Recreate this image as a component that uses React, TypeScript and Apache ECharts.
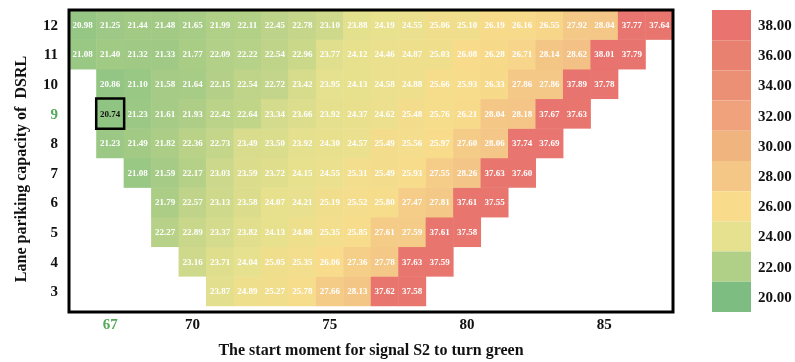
import React, { useEffect, useRef } from "react";
import * as echarts from "echarts";

const xCategories = [66, 67, 68, 69, 70, 71, 72, 73, 74, 75, 76, 77, 78, 79, 80, 81, 82, 83, 84, 85, 86, 87];
const yCategories = [3, 4, 5, 6, 7, 8, 9, 10, 11, 12];
const xTickLabels = [67, 70, 75, 80, 85];

// values of each row (lane parking capacity), starting at the given start moment
const row12 = [20.98, 21.25, 21.44, 21.48, 21.65, 21.99, 22.11, 22.45, 22.78, 23.10, 23.88, 24.19, 24.55, 25.06, 25.10, 26.19, 26.16, 26.55, 27.92, 28.04, 37.77, 37.64];
const row11 = [21.08, 21.40, 21.32, 21.33, 21.77, 22.09, 22.22, 22.54, 22.96, 23.77, 24.12, 24.46, 24.87, 25.03, 26.08, 26.28, 26.71, 28.14, 28.62, 38.01, 37.79];
const row10 = [20.86, 21.10, 21.58, 21.64, 22.15, 22.54, 22.72, 23.42, 23.95, 24.13, 24.58, 24.88, 25.66, 25.93, 26.33, 27.86, 27.86, 37.89, 37.78];
const row9 = [20.74, 21.23, 21.61, 21.93, 22.42, 22.64, 23.34, 23.66, 23.92, 24.37, 24.62, 25.48, 25.76, 26.21, 28.04, 28.18, 37.67, 37.63];
const row8 = [21.23, 21.49, 21.82, 22.36, 22.73, 23.49, 23.50, 23.92, 24.30, 24.57, 25.49, 25.56, 25.97, 27.60, 28.06, 37.74, 37.69];
const row7 = [21.08, 21.59, 22.17, 23.03, 23.59, 23.72, 24.15, 24.55, 25.31, 25.49, 25.93, 27.55, 28.26, 37.63, 37.60];
const row6 = [21.79, 22.57, 23.13, 23.58, 24.07, 24.21, 25.19, 25.52, 25.80, 27.47, 27.81, 37.61, 37.55];
const row5 = [22.27, 22.89, 23.37, 23.82, 24.13, 24.88, 25.35, 25.85, 27.61, 27.59, 37.61, 37.58];
const row4 = [23.16, 23.71, 24.04, 25.05, 25.35, 26.06, 27.36, 27.78, 37.63, 37.59];
const row3 = [23.87, 24.89, 25.27, 25.78, 27.66, 28.13, 37.62, 37.58];

const rows = [row3, row4, row5, row6, row7, row8, row9, row10, row11, row12];
const rowStarts = [71, 70, 69, 69, 68, 67, 67, 67, 66, 66];

// highlighted optimum cell
const bestX = 67;
const bestY = 9;

const legendValues = [20, 22, 24, 26, 28, 30, 32, 34, 36, 38];
const legendColors = ["#7dbd81", "#b0cf87", "#e6e18e", "#f8dc8b", "#f4c787", "#f0b57f", "#efa27c", "#ec9075", "#e98170", "#e8736f"];

const FONT = "'Liberation Serif', 'Times New Roman', serif";
const GREEN = "#55a95a";

export default function App() {
  const ref = useRef<HTMLDivElement>(null);

  useEffect(() => {
    if (!ref.current) return;
    const chart = echarts.init(ref.current, null, { renderer: "svg" });

    const data: any[] = [];
    let best: any = null;
    rows.forEach((vals, ri) => {
      vals.forEach((v, i) => {
        const xv = rowStarts[ri] + i;
        const xi = xCategories.indexOf(xv);
        const item: any = { value: [xi, ri, v] };
        if (xv === bestX && yCategories[ri] === bestY) {
          item.itemStyle = { borderColor: "#000", borderWidth: 2.5 };
          item.label = { color: "#111" };
          best = item;
        } else {
          data.push(item);
        }
      });
    });
    if (best) data.push(best);

    const left = 69, top = 10, width = 604, height = 302;

    chart.setOption({
      animation: false,
      grid: { left, top, width, height, show: false },
      xAxis: {
        type: "category",
        data: xCategories.map(String),
        axisLine: { show: false },
        axisTick: { show: false },
        splitLine: { show: false },
        axisLabel: {
          interval: (_i: number, v: string) => xTickLabels.includes(Number(v)),
          margin: 10,
          fontFamily: FONT,
          fontWeight: "bold",
          fontSize: 15,
          color: "#111",
          formatter: (v: string) => (Number(v) === bestX ? "{g|" + v + "}" : v),
          rich: { g: { color: GREEN, fontFamily: FONT, fontWeight: "bold", fontSize: 15 } },
        },
        name: "The start moment for signal S2 to turn green",
        nameLocation: "middle",
        nameGap: 35,
        nameTextStyle: { fontFamily: FONT, fontWeight: "bold", fontSize: 16, color: "#111" },
      },
      yAxis: {
        type: "category",
        data: yCategories.map(String),
        axisLine: { show: false },
        axisTick: { show: false },
        splitLine: { show: false },
        axisLabel: {
          margin: 11,
          fontFamily: FONT,
          fontWeight: "bold",
          fontSize: 15,
          color: "#111",
          formatter: (v: string) => (Number(v) === bestY ? "{g|" + v + "}" : v),
          rich: { g: { color: GREEN, fontFamily: FONT, fontWeight: "bold", fontSize: 15 } },
        },
        name: "Lane pariking capacity of  DSRL",
        nameLocation: "middle",
        nameRotate: 90,
        nameGap: 41,
        nameTextStyle: { fontFamily: FONT, fontWeight: "bold", fontSize: 16, color: "#111", padding: [0, 22, 0, 0] },
      },
      visualMap: [
        {
          type: "continuous",
          show: false,
          seriesIndex: 0,
          dimension: 2,
          min: 20,
          max: 38,
          inRange: { color: legendColors },
        },
        {
          type: "piecewise",
          seriesIndex: 1,
          orient: "vertical",
          align: "left",
          left: 712,
          top: 10,
          padding: 0,
          itemWidth: 39,
          itemHeight: 30.2,
          itemGap: 0,
          itemSymbol: "rect",
          textGap: 7,
          selectedMode: false,
          textStyle: { fontFamily: FONT, fontWeight: "bold", fontSize: 15, color: "#111" },
          pieces: legendValues.map((v, i) => ({
            min: v - 1,
            max: v + 1,
            label: v.toFixed(2),
            color: legendColors[i],
          })),
        },
      ],
      series: [
        {
          type: "heatmap",
          data,
          label: {
            show: true,
            color: "#fff",
            fontFamily: FONT,
            fontWeight: "bold",
            fontSize: 9,
            formatter: (p: any) => Number(p.value[2]).toFixed(2),
          },
          emphasis: { disabled: true },
        },
        {
          type: "scatter",
          data: [],
        },
      ],
      graphic: [
        {
          type: "rect",
          z: 100,
          shape: { x: left, y: top, width, height },
          style: { fill: "transparent", stroke: "#000", lineWidth: 3 },
          silent: true,
        },
      ],
    });

    return () => chart.dispose();
  }, []);

  return <div ref={ref} style={{ position: "fixed", left: 0, top: 0, width: 795, height: 362 }} />;
}
